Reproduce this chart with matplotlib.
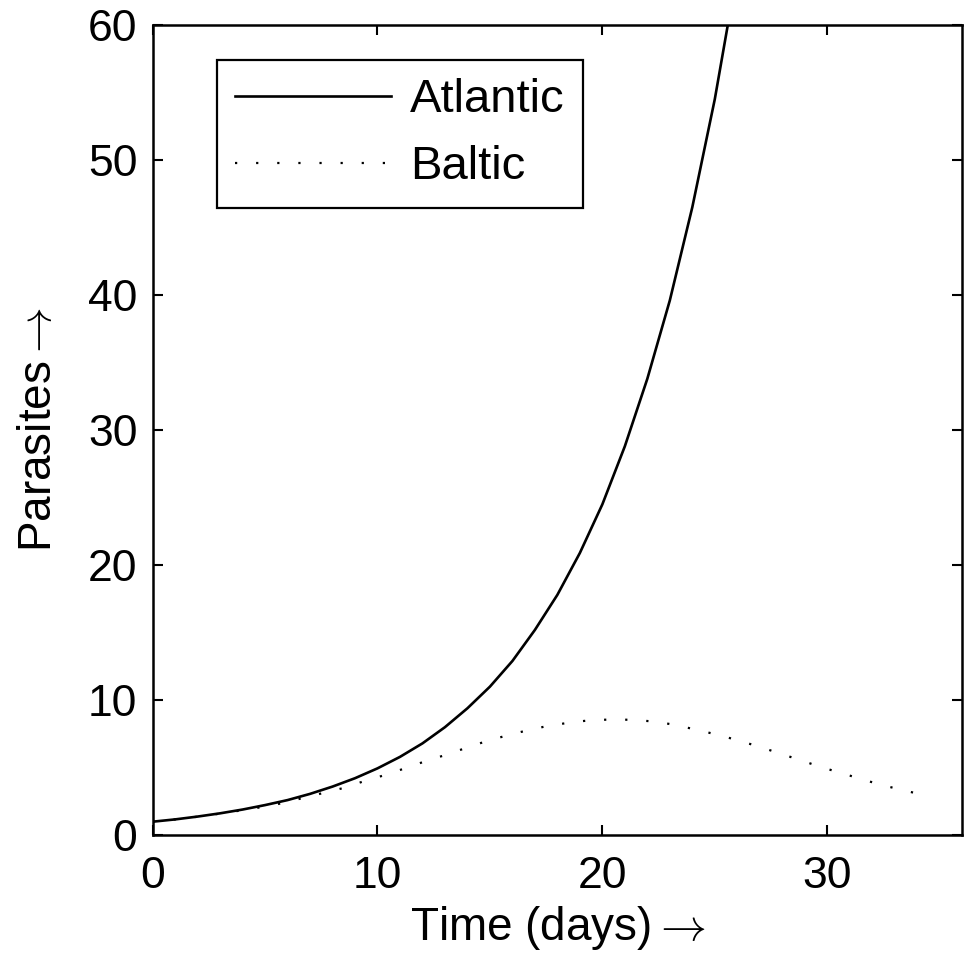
import matplotlib
matplotlib.use("Agg")
import matplotlib.pyplot as plt

# values
atl_t = [0, 1, 2, 3, 4, 5, 6, 7, 8, 9, 10, 11, 12, 13, 14, 15, 16, 17, 18, 19,
         20, 21, 22, 23, 24, 25, 26]
atl_p = [1.0, 1.17, 1.38, 1.62, 1.9, 2.23, 2.6, 3.06, 3.6, 4.22, 4.95, 5.8, 6.8,
         8.0, 9.4, 11.0, 12.9, 15.2, 17.8, 20.9, 24.5, 28.8, 33.8, 39.6, 46.5,
         54.5, 64.0]

bal_t = [0, 1, 2, 3, 4, 5, 5.7, 6.6, 7.5, 8.5, 9.4, 10.3, 11.2, 12.1, 13.0, 13.9,
         14.8, 15.7, 16.7, 17.6, 18.6, 19.5, 20.5, 21.4, 22.4, 23.3, 24.2, 25.2,
         26.1, 27.0, 27.9, 28.8, 29.7, 30.6, 31.5, 32.4, 33.4, 34.3]
bal_p = [1.0, 1.17, 1.37, 1.6, 1.85, 2.12, 2.35, 2.72, 3.09, 3.5, 4.0, 4.44, 4.94,
         5.46, 5.93, 6.44, 6.94, 7.36, 7.78, 8.10, 8.35, 8.52, 8.57, 8.54, 8.40,
         8.15, 7.80, 7.41, 6.99, 6.54, 6.05, 5.56, 5.06, 4.61, 4.17, 3.72, 3.33,
         2.96]

plt.rcParams["font.family"] = ["Liberation Sans", "DejaVu Sans"]
plt.rcParams["mathtext.fontset"] = "cm"   # long LaTeX-style arrow in the labels

fig = plt.figure(figsize=(9.66, 9.6), dpi=100)
ax = fig.add_axes([0.158, 0.130, 0.838, 0.844])

ax.plot(atl_t, atl_p, "-", color="black", lw=1.9, label="Atlantic")
ax.plot(bal_t, bal_p, color="black", lw=1.6, linestyle=(0, (1, 8.5)), label="Baltic")

ax.set_xlim(0, 36)
ax.set_ylim(0, 60)
ax.set_xticks([0, 10, 20, 30])
ax.set_yticks([0, 10, 20, 30, 40, 50, 60])
ax.tick_params(direction="in", length=7, width=1.5, labelsize=32,
               top=True, right=True)
ax.tick_params(axis="x", pad=15)
ax.tick_params(axis="y", pad=11)
for s in ax.spines.values():
    s.set_linewidth(1.8)

# mathtext already puts relation spacing round the arrow, so no plain space
ax.set_xlabel("Time (days)$\\rightarrow$", fontsize=33, labelpad=5)
ax.set_ylabel("Parasites$\\rightarrow$", fontsize=33, labelpad=19)

leg = ax.legend(loc="upper left", bbox_to_anchor=(0.079, 0.957), borderaxespad=0,
                fontsize=34, fancybox=False, framealpha=1, edgecolor="black",
                handlelength=3.3, handletextpad=0.4, labelspacing=0.49,
                borderpad=0.39)
leg.get_frame().set_linewidth(1.6)

fig.savefig("out.png", dpi=100)
